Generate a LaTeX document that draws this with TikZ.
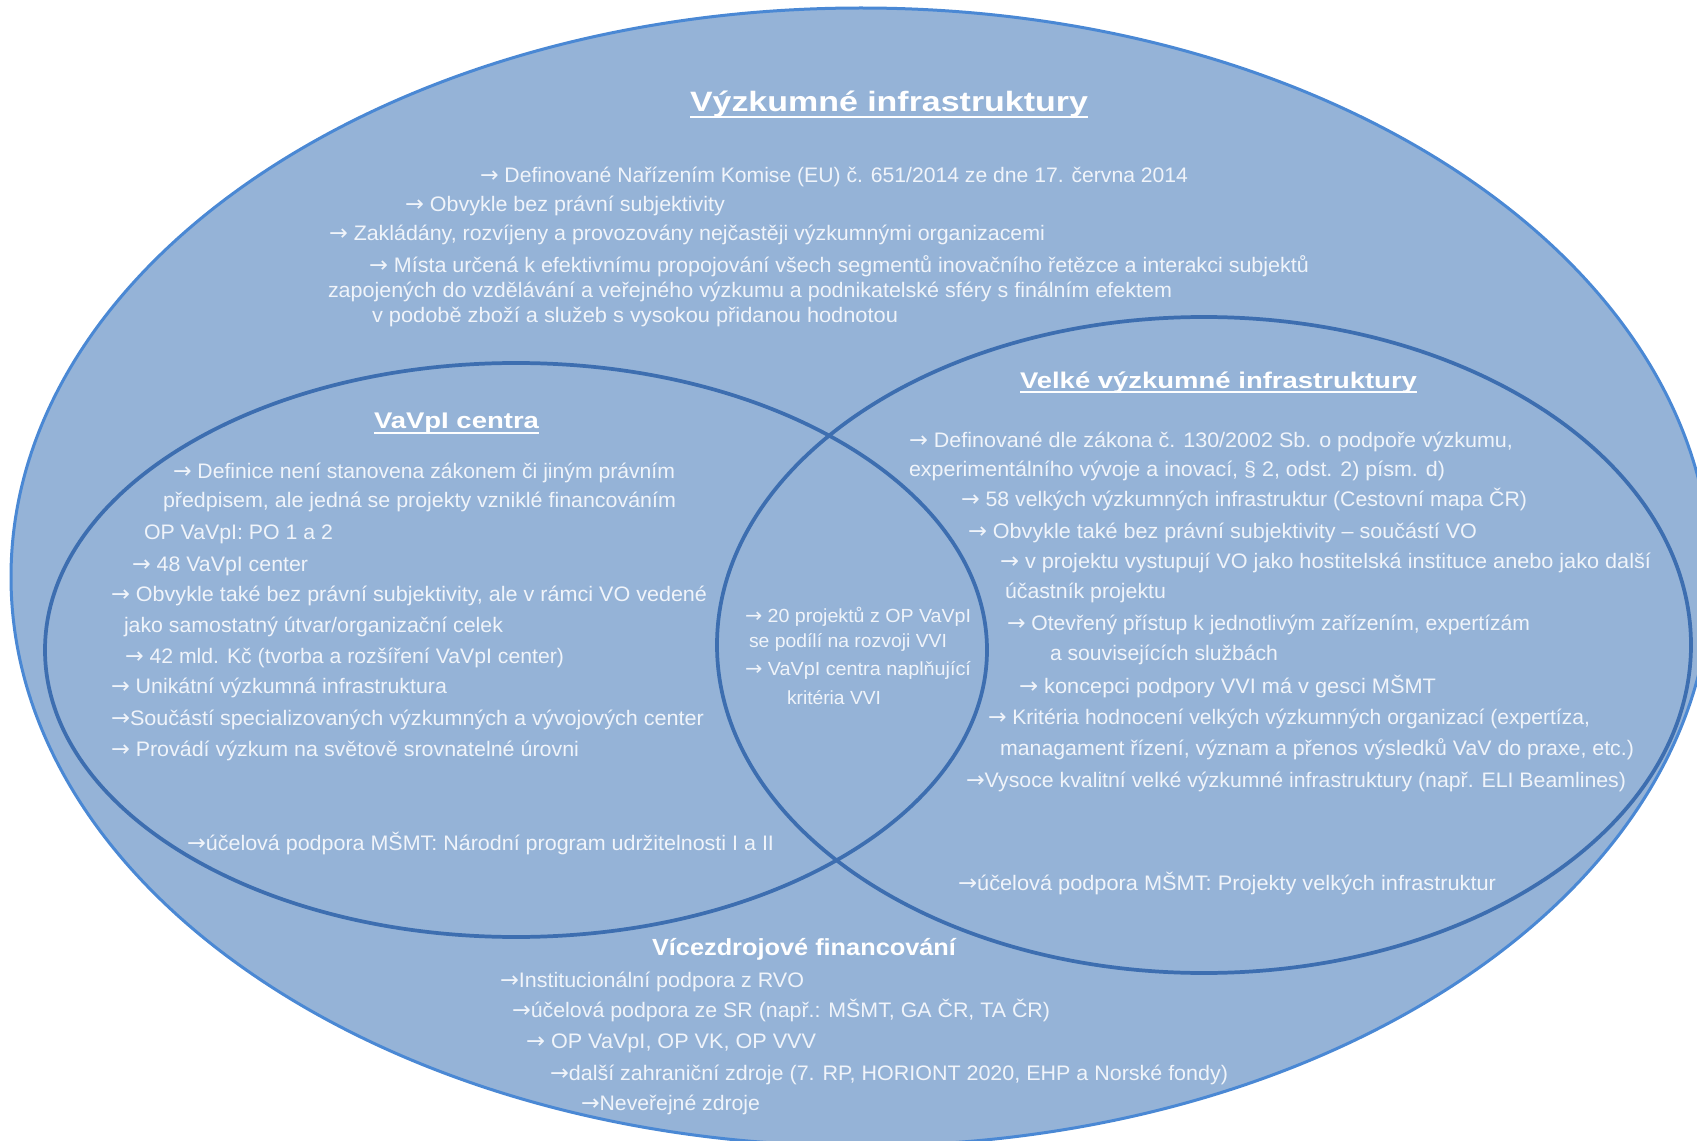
\documentclass[tikz,border=0pt]{standalone}
\usepackage{fontspec}
\setmainfont{Liberation Sans}
\newfontfamily\arrowfont{DejaVu Sans}[Scale=1.05]
\usepackage{graphicx}
\usetikzlibrary{calc}
\definecolor{fillc}{RGB}{149,179,215}
\definecolor{outerc}{RGB}{74,136,212}
\definecolor{innerc}{RGB}{61,110,176}
\definecolor{txtc}{RGB}{240,244,250}
% one unit = one pixel of the 1697 x 1141 canvas
\newdimen\upx \upx=0.75pt
% set a line to a given width (in px), keeping its height
\newcommand\fw[2]{\resizebox{#1\upx}{\height}{#2}}
% bullet arrow
\newcommand\ra{{\arrowfont →}}

\begin{document}
\begin{tikzpicture}[x=0.75pt,y=-0.75pt,
  body/.style={anchor=base west, inner sep=0pt, outer sep=0pt, text=txtc,
    font=\fontsize{15.75}{18}\selectfont},
  lens/.style={body, font=\fontsize{14.25}{17}\selectfont},
  head/.style={anchor=base west, inner sep=0pt, outer sep=0pt, text=white,
    font=\bfseries\fontsize{17}{20}\selectfont},
  bighead/.style={head, font=\bfseries\fontsize{21}{24}\selectfont},
  uline/.style={draw=white, line width=1.5pt},
  outerset/.style={fill=fillc, draw=outerc, line width=2.25pt},
  innerset/.style={draw=innerc, line width=2.8pt}]

\useasboundingbox (0,0) rectangle (1697,1141);
\clip (0,0) rectangle (1697,1141);
\fill[white] (0,0) rectangle (1697,1141);

% the three sets
\draw[outerset] (861,577) ellipse [x radius=850, y radius=569];
\draw[innerset] (516,650) ellipse [x radius=471, y radius=287];
\draw[innerset] (1204,645) ellipse [x radius=487, y radius=328];

% research infrastructures in general
\node[bighead] (t0) at (690,112) {\fw{398}{Výzkumné infrastruktury}};
\draw[uline] ($(t0.base west)+(0,5)$) -- ($(t0.base east)+(0,5)$);
\node[body] (t1) at (480,183) {\fw{708}{\ra{} Definované Nařízením Komise (EU) č. 651/2014 ze dne 17. června 2014}};
\node[body] (t2) at (405,212) {\fw{320}{\ra{} Obvykle bez právní subjektivity}};
\node[body] (t3) at (329,241) {\fw{716}{\ra{} Zakládány, rozvíjeny a provozovány nejčastěji výzkumnými organizacemi}};
\node[body] (t4) at (369,273) {\fw{940}{\ra{} Místa určená k efektivnímu propojování všech segmentů inovačního řetězce a interakci subjektů}};
\node[body] (t5) at (328,298) {\fw{844}{zapojených do vzdělávání a veřejného výzkumu a podnikatelské sféry s finálním efektem}};
\node[body] (t6) at (372,323) {\fw{526}{v podobě zboží a služeb s vysokou přidanou hodnotou}};

% VaVpI centres
\node[head] (l0) at (374,429) {\fw{165}{VaVpI centra}};
\draw[uline] ($(l0.base west)+(0,4)$) -- ($(l0.base east)+(0,4)$);
\node[body] (l1) at (173,479) {\fw{502}{\ra{} Definice není stanovena zákonem či jiným právním}};
\node[body] (l2) at (163,508) {\fw{513}{předpisem, ale jedná se projekty vzniklé financováním}};
\node[body] (l3) at (144,539) {\fw{189}{OP VaVpI: PO 1 a 2}};
\node[body] (l4) at (132,571) {\fw{176}{\ra{} 48 VaVpI center}};
\node[body] (l5) at (111,601) {\fw{596}{\ra{} Obvykle také bez právní subjektivity, ale v rámci VO vedené}};
\node[body] (l6) at (124,632) {\fw{379}{jako samostatný útvar/organizační celek}};
\node[body] (l7) at (125,663) {\fw{439}{\ra{} 42 mld. Kč (tvorba a rozšíření VaVpI center)}};
\node[body] (l8) at (111,693) {\fw{336}{\ra{} Unikátní výzkumná infrastruktura}};
\node[body] (l9) at (111,725) {\fw{593}{\ra{}Součástí specializovaných výzkumných a vývojových center}};
\node[body] (l10) at (111,756) {\fw{468}{\ra{} Provádí výzkum na světově srovnatelné úrovni}};
\node[body] (l11) at (187,850) {\fw{587}{\ra{}účelová podpora MŠMT: Národní program udržitelnosti I a II}};

% overlap of the two inner sets
\node[lens] (m1) at (745,622) {\fw{226}{\ra{} 20 projektů z OP VaVpI}};
\node[lens] (m2) at (749,647) {\fw{198}{se podílí na rozvoji VVI}};
\node[lens] (m3) at (745,675) {\fw{226}{\ra{} VaVpI centra naplňující}};
\node[lens] (m4) at (787,704) {\fw{94}{kritéria VVI}};

% large research infrastructures
\node[head] (r0) at (1020,388) {\fw{397}{Velké výzkumné infrastruktury}};
\draw[uline] ($(r0.base west)+(0,4)$) -- ($(r0.base east)+(0,4)$);
\node[body] (r1) at (909,447) {\fw{604}{\ra{} Definované dle zákona č. 130/2002 Sb. o podpoře výzkumu,}};
\node[body] (r2) at (909,477) {\fw{536}{experimentálního vývoje a inovací, § 2, odst. 2) písm. d)}};
\node[body] (r3) at (961,507) {\fw{566}{\ra{} 58 velkých výzkumných infrastruktur (Cestovní mapa ČR)}};
\node[body] (r4) at (968,538) {\fw{509}{\ra{} Obvykle také bez právní subjektivity – součástí VO}};
\node[body] (r5) at (1000,568) {\fw{651}{\ra{} v projektu vystupují VO jako hostitelská instituce anebo jako další}};
\node[body] (r6) at (1005,598) {\fw{161}{účastník projektu}};
\node[body] (r7) at (1007,630) {\fw{523}{\ra{} Otevřený přístup k jednotlivým zařízením, expertízám}};
\node[body] (r8) at (1050,660) {\fw{228}{a souvisejících službách}};
\node[body] (r9) at (1019,693) {\fw{417}{\ra{} koncepci podpory VVI má v gesci MŠMT}};
\node[body] (r10) at (988,724) {\fw{602}{\ra{} Kritéria hodnocení velkých výzkumných organizací (expertíza,}};
\node[body] (r11) at (1000,755) {\fw{634}{managament řízení, význam a přenos výsledků VaV do praxe, etc.)}};
\node[body] (r12) at (966,787) {\fw{660}{\ra{}Vysoce kvalitní velké výzkumné infrastruktury (např. ELI Beamlines)}};
\node[body] (r13) at (958,890) {\fw{538}{\ra{}účelová podpora MŠMT: Projekty velkých infrastruktur}};

% multi-source funding
\node[head, font=\bfseries\fontsize{17.5}{20}\selectfont] (b0) at (652,955) {\fw{304}{Vícezdrojové financování}};
\node[body] (b1) at (500,987) {\fw{304}{\ra{}Institucionální podpora z RVO}};
\node[body] (b2) at (512,1017) {\fw{538}{\ra{}účelová podpora ze SR (např.: MŠMT, GA ČR, TA ČR)}};
\node[body] (b3) at (526,1048) {\fw{290}{\ra{} OP VaVpI, OP VK, OP VVV}};
\node[body] (b4) at (550,1080) {\fw{678}{\ra{}další zahraniční zdroje (7. RP, HORIONT 2020, EHP a Norské fondy)}};
\node[body] (b5) at (581,1110) {\fw{179}{\ra{}Neveřejné zdroje}};
\end{tikzpicture}
\end{document}
